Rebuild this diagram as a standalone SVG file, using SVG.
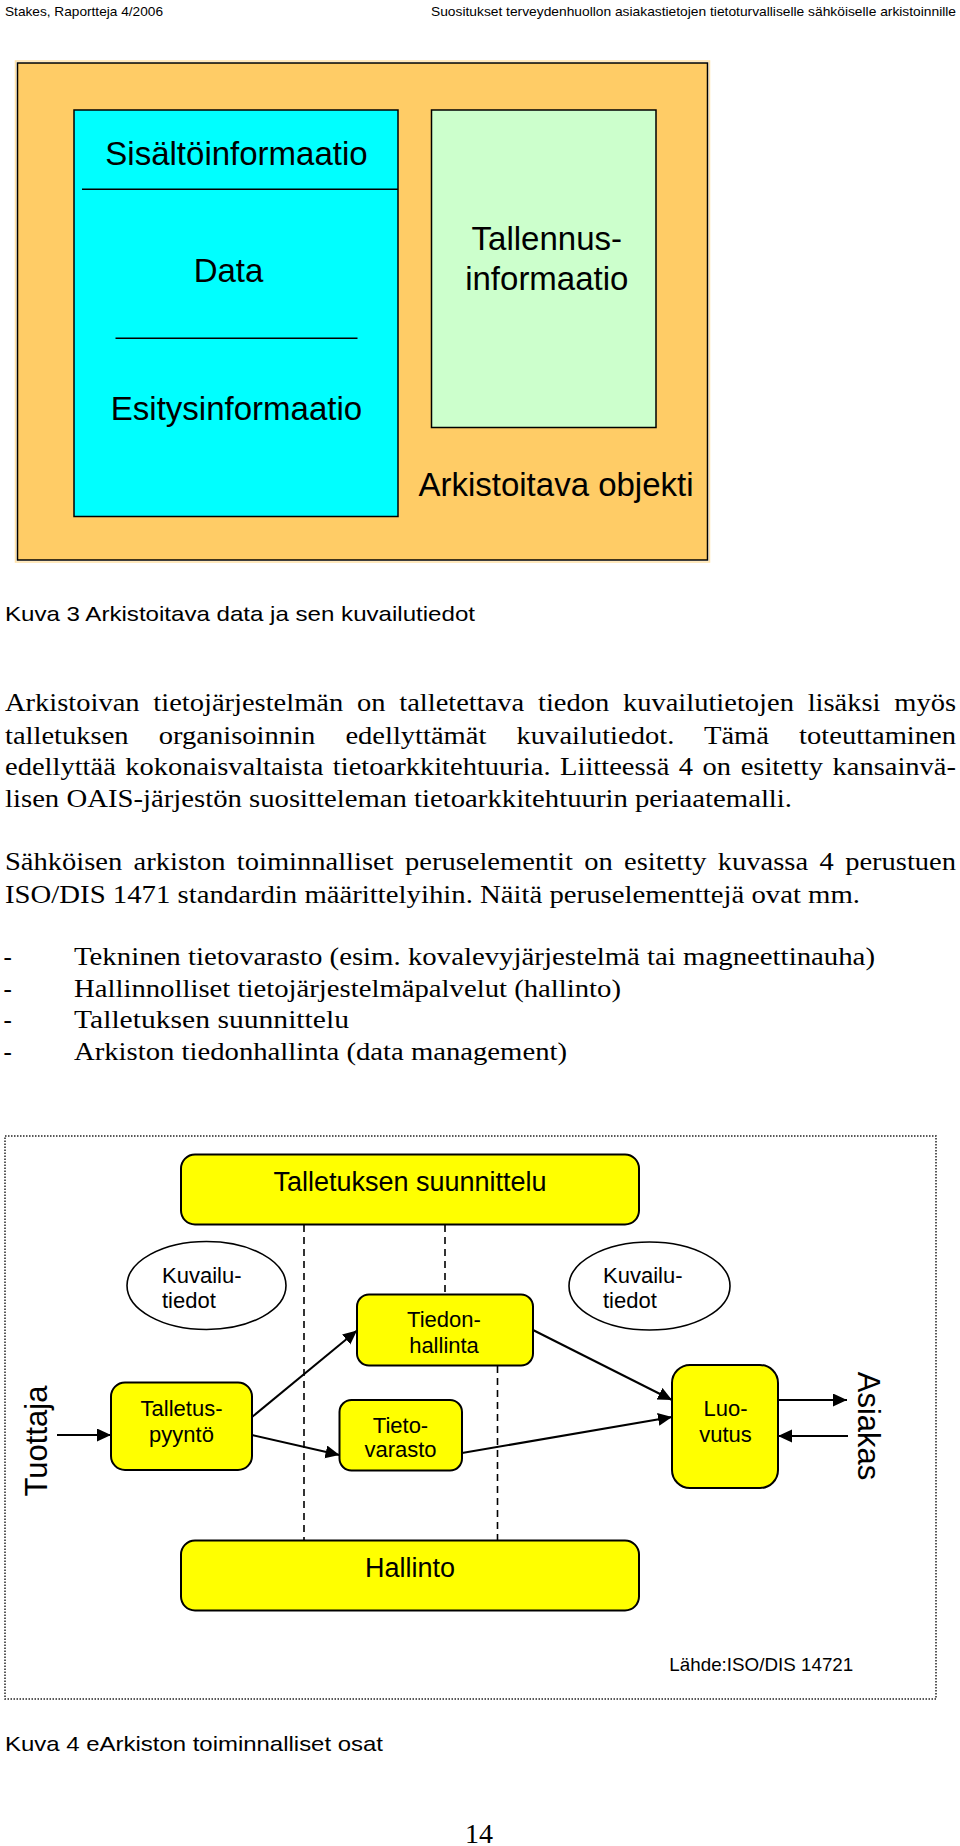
<svg xmlns="http://www.w3.org/2000/svg" width="960" height="1846" viewBox="0 0 960 1846">
<style>
.sans{font-family:"Liberation Sans",Arial,sans-serif;fill:#000}
.serif{font-family:"Liberation Serif","Times New Roman",serif;fill:#000}
.hdr{font-size:13px}
.big{font-size:33px;text-anchor:middle}
.body{font-size:25px}
.cap{font-size:21px}
.node{fill:#ffff00;stroke:#000;stroke-width:2}
.ell{fill:#fff;stroke:#000;stroke-width:1.6}
.lbl{font-size:22px;text-anchor:middle}
.lblL{font-size:22px}
.dash{stroke:#000;stroke-width:1.6;stroke-dasharray:7 5;fill:none}
.arr{stroke:#000;stroke-width:2;fill:none;marker-end:url(#ah)}
</style>
<defs>
<marker id="ah" markerUnits="userSpaceOnUse" markerWidth="15" markerHeight="14" refX="14" refY="6.5" orient="auto">
<path d="M0,0 L14,6.5 L0,13 z" fill="#000"/>
</marker>
</defs>
<rect width="960" height="1846" fill="#fff"/>

<g id="header">
<text class="sans hdr" x="5" y="16" textLength="158" lengthAdjust="spacingAndGlyphs">Stakes, Raportteja 4/2006</text>
<text class="sans hdr" x="431" y="16" textLength="525" lengthAdjust="spacingAndGlyphs">Suositukset terveydenhuollon asiakastietojen tietoturvalliselle sähköiselle arkistoinnille</text>
</g>

<g id="fig3">
<g id="arkistoitava-objekti">
<rect x="15.5" y="61" width="694" height="501" fill="none" stroke="#ffe2a8" stroke-width="1.5"/>
<rect x="17.5" y="63" width="690" height="497" fill="#ffcc66" stroke="#000" stroke-width="1.5"/>
<text class="sans big" x="556" y="496">Arkistoitava objekti</text>
</g>
<g id="data-box">
<rect x="74" y="110" width="324" height="406.5" fill="#00ffff" stroke="#000" stroke-width="1.5"/>
<line x1="82" y1="189.3" x2="398" y2="189.3" stroke="#000" stroke-width="1.5"/>
<line x1="115.5" y1="338.3" x2="357.5" y2="338.3" stroke="#000" stroke-width="1.5"/>
<text class="sans big" x="236.5" y="165">Sisältöinformaatio</text>
<text class="sans big" x="228.5" y="282">Data</text>
<text class="sans big" x="236.5" y="420">Esitysinformaatio</text>
</g>
<g id="tallennusinformaatio">
<rect x="431.5" y="110" width="224.5" height="317.5" fill="#ccffcc" stroke="#000" stroke-width="1.5"/>
<text class="sans big" x="546.8" y="250">Tallennus-</text>
<text class="sans big" x="546.8" y="290">informaatio</text>
</g>
</g>

<g id="text">
<text class="sans cap" x="5" y="620.5" textLength="470" lengthAdjust="spacingAndGlyphs">Kuva 3 Arkistoitava data ja sen kuvailutiedot</text>
<text class="serif body" x="5" y="711" textLength="951" lengthAdjust="spacingAndGlyphs" word-spacing="5.8">Arkistoivan tietojärjestelmän on talletettava tiedon kuvailutietojen lisäksi myös</text>
<text class="serif body" x="5" y="743.5" textLength="951" lengthAdjust="spacingAndGlyphs" word-spacing="20.2">talletuksen organisoinnin edellyttämät kuvailutiedot. Tämä toteuttaminen</text>
<text class="serif body" x="5" y="775" textLength="951" lengthAdjust="spacingAndGlyphs" word-spacing="2.1">edellyttää kokonaisvaltaista tietoarkkitehtuuria. Liitteessä 4 on esitetty kansainvä-</text>
<text class="serif body" x="5" y="806.5" textLength="787" lengthAdjust="spacingAndGlyphs">lisen OAIS-järjestön suositteleman tietoarkkitehtuurin periaatemalli.</text>
<text class="serif body" x="5" y="870" textLength="951" lengthAdjust="spacingAndGlyphs" word-spacing="3.75">Sähköisen arkiston toiminnalliset peruselementit on esitetty kuvassa 4 perustuen</text>
<text class="serif body" x="5" y="903" textLength="855" lengthAdjust="spacingAndGlyphs">ISO/DIS 1471 standardin määrittelyihin. Näitä peruselementtejä ovat mm.</text>
<text class="serif body" x="3.5" y="965">-</text>
<text class="serif body" x="74" y="965" textLength="801" lengthAdjust="spacingAndGlyphs">Tekninen tietovarasto (esim. kovalevyjärjestelmä tai magneettinauha)</text>
<text class="serif body" x="3.5" y="997">-</text>
<text class="serif body" x="74" y="997" textLength="547" lengthAdjust="spacingAndGlyphs">Hallinnolliset tietojärjestelmäpalvelut (hallinto)</text>
<text class="serif body" x="3.5" y="1028">-</text>
<text class="serif body" x="74" y="1028" textLength="275" lengthAdjust="spacingAndGlyphs">Talletuksen suunnittelu</text>
<text class="serif body" x="3.5" y="1059.5">-</text>
<text class="serif body" x="74" y="1059.5" textLength="493" lengthAdjust="spacingAndGlyphs">Arkiston tiedonhallinta (data management)</text>
</g>

<g id="fig4">
<rect id="frame" x="5" y="1136" width="931" height="563" fill="none" stroke="#222" stroke-width="1.5" stroke-dasharray="1.5 1.5"/>

<g id="connectors">
<line class="dash" x1="304" y1="1225" x2="304" y2="1540"/>
<line class="dash" x1="445" y1="1225" x2="445" y2="1294"/>
<line class="dash" x1="497.5" y1="1366" x2="497.5" y2="1540"/>
<line class="arr" x1="57" y1="1435" x2="111" y2="1435"/>
<line class="arr" x1="252" y1="1417" x2="357" y2="1330.5"/>
<line class="arr" x1="252" y1="1435" x2="339.5" y2="1455"/>
<line class="arr" x1="533" y1="1330" x2="672" y2="1400"/>
<line class="arr" x1="462" y1="1453" x2="672" y2="1417"/>
<line class="arr" x1="778" y1="1400" x2="847" y2="1400"/>
<line class="arr" x1="848" y1="1436" x2="778" y2="1436"/>
</g>

<g id="talletuksen-suunnittelu">
<rect class="node" x="181" y="1154.5" width="458" height="70" rx="14"/>
<text class="sans" x="410" y="1190.7" font-size="27" text-anchor="middle">Talletuksen suunnittelu</text>
</g>
<g id="kuvailutiedot-1">
<ellipse class="ell" cx="206.5" cy="1285.5" rx="79.5" ry="44"/>
<text class="sans lblL" x="162" y="1283.3">Kuvailu-</text>
<text class="sans lblL" x="162" y="1308.3">tiedot</text>
</g>
<g id="kuvailutiedot-2">
<ellipse class="ell" cx="649.5" cy="1286" rx="80.5" ry="44"/>
<text class="sans lblL" x="603" y="1283.3">Kuvailu-</text>
<text class="sans lblL" x="603" y="1308.3">tiedot</text>
</g>
<g id="tiedonhallinta">
<rect class="node" x="357" y="1294.5" width="176" height="71" rx="12"/>
<text class="sans lbl" x="444" y="1326.7">Tiedon-</text>
<text class="sans lbl" x="444" y="1353.3">hallinta</text>
</g>
<g id="talletuspyynto">
<rect class="node" x="111" y="1382.5" width="141" height="87.5" rx="14"/>
<text class="sans lbl" x="181.5" y="1416">Talletus-</text>
<text class="sans lbl" x="181.5" y="1441.7">pyyntö</text>
</g>
<g id="tietovarasto">
<rect class="node" x="339.5" y="1400" width="122.5" height="70.5" rx="12"/>
<text class="sans lbl" x="400.5" y="1432.7">Tieto-</text>
<text class="sans lbl" x="400.5" y="1457.3">varasto</text>
</g>
<g id="luovutus">
<rect class="node" x="672" y="1365" width="106" height="123" rx="18"/>
<text class="sans lbl" x="725.5" y="1416">Luo-</text>
<text class="sans lbl" x="725.5" y="1441.7">vutus</text>
</g>
<g id="hallinto">
<rect class="node" x="181" y="1540.5" width="458" height="70" rx="14"/>
<text class="sans" x="410" y="1576.7" font-size="27" text-anchor="middle">Hallinto</text>
</g>
<g id="tuottaja">
<text class="sans" font-size="31" text-anchor="middle" transform="translate(46.8,1441) rotate(-90)">Tuottaja</text>
</g>
<g id="asiakas">
<text class="sans" font-size="31" text-anchor="middle" transform="translate(857.8,1426) rotate(90)">Asiakas</text>
</g>
<text class="sans" x="669.3" y="1670.7" font-size="19" textLength="184" lengthAdjust="spacingAndGlyphs">Lähde:ISO/DIS 14721</text>
</g>

<g id="footer">
<text class="sans cap" x="5" y="1750.5" textLength="378" lengthAdjust="spacingAndGlyphs">Kuva 4 eArkiston toiminnalliset osat</text>
<text class="serif" x="479" y="1843" font-size="28" text-anchor="middle">14</text>
</g>
</svg>
